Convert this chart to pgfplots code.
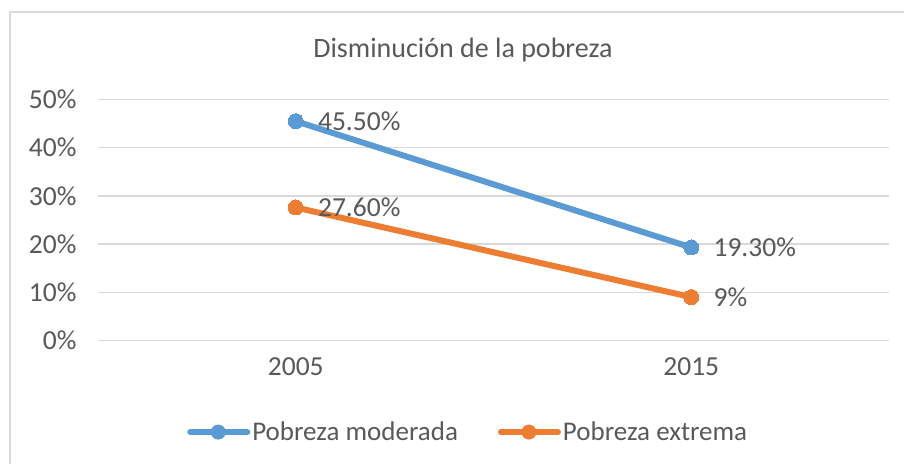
\documentclass[border=0pt]{standalone}
\usepackage{pgfplots}
\pgfplotsset{compat=1.18}
\usepackage{fontspec}
\setmainfont{Carlito}
\definecolor{cblue}{HTML}{5B9BD5}
\definecolor{corange}{HTML}{ED7D31}
\definecolor{ctext}{HTML}{595959}
\definecolor{cgrid}{HTML}{D9D9D9}
\begin{document}
\begin{tikzpicture}[x=1pt,y=1pt]
\useasboundingbox (0pt,0pt) rectangle (904pt,463pt);
\fill[white] (0pt,0pt) rectangle (904pt,463pt);
\draw[cgrid, line width=1.5pt] (10pt,-5pt) |- (910pt,451pt);
\node[text=ctext, font=\fontsize{28}{32}\selectfont] at (463pt,413pt) {Disminución de la pobreza};
\begin{axis}[
  at={(98pt,122.5pt)}, anchor=south west,
  scale only axis, width=791pt, height=241pt,
  xmin=-0.5, xmax=1.5, ymin=0, ymax=0.5,
  axis line style={draw=none},
  tick style={draw=none},
  ymajorgrids, grid style={cgrid, line width=1.3pt},
  xtick={0,1}, xticklabels={2005,2015},
  ytick={0,0.1,0.2,0.3,0.4,0.5},
  yticklabels={0\%,10\%,20\%,30\%,40\%,50\%},
  ticklabel style={text=ctext, font=\fontsize{27.5}{32}\selectfont},
  yticklabel style={xshift=-18pt},
  xticklabel style={yshift=-14pt},
  clip=false,
  point meta=explicit symbolic,
  nodes near coords,
  nodes near coords style={anchor=west, xshift=19pt, text=ctext, font=\fontsize{27.5}{32}\selectfont},
  legend columns=2,
  legend style={at={(0.468,-0.38)}, anchor=center, draw=none, fill=none,
    font=\fontsize{27}{32}\selectfont, text=ctext,
    /tikz/every even column/.append style={column sep=38pt}},
  legend image code/.code={
    \draw[#1, line cap=round] (0pt,0pt) -- (57pt,0pt);
    \fill[#1, draw=none] (28pt,0pt) circle (7.5pt);
  },
]
\addplot[cblue, line width=6pt, mark=*, mark size=7.5pt, mark options={line width=0pt}]
  coordinates {(0,0.455) [45.50\%] (1,0.193) [19.30\%]};
\addlegendentry{Pobreza moderada}
\addplot[corange, line width=6pt, mark=*, mark size=7.5pt, mark options={line width=0pt}]
  coordinates {(0,0.276) [27.60\%] (1,0.09) [9\%]};
\addlegendentry{Pobreza extrema}
\end{axis}
\end{tikzpicture}
\end{document}
